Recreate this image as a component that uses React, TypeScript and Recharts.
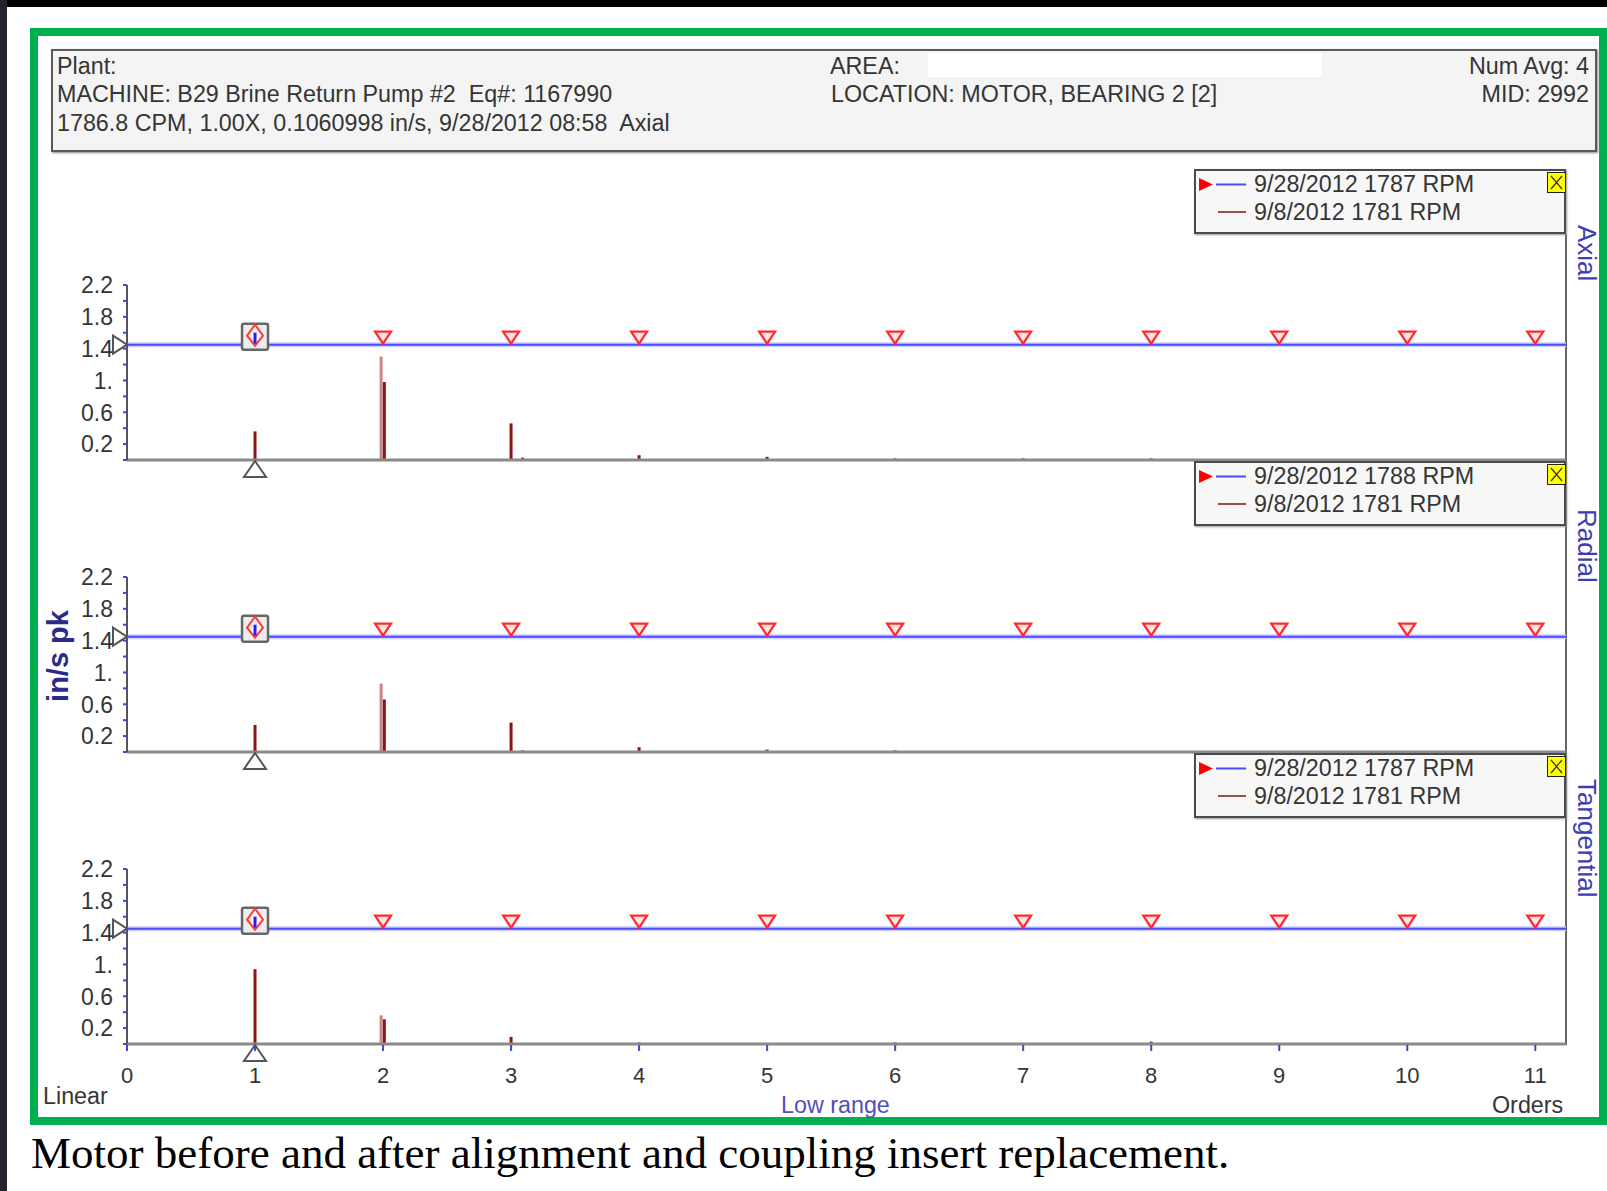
import React from 'react';
import { ComposedChart, Bar, Cell, Scatter, XAxis, YAxis, ReferenceLine, Legend } from 'recharts';

// axis ticks
const ORDER_TICKS = [0, 1, 2, 3, 4, 5, 6, 7, 8, 9, 10, 11];
const Y_TICKS = [0, 0.2, 0.4, 0.6, 0.8, 1, 1.2, 1.4, 1.6, 1.8, 2, 2.2];
const Y_LABEL_VALUES = [0.2, 0.6, 1, 1.4, 1.8, 2.2];
const Y_LABELS = ['0.2', '0.6', '1.', '1.4', '1.8', '2.2'];

// markers
const ALARM_LEVEL = 1.45;
const RUN_SPEED_ORDER = 1;
const HARMONIC_ORDERS = [2, 3, 4, 5, 6, 7, 8, 9, 10, 11];

// 9/8/2012 spectrum (before alignment)
const OLD_ORDERS = [1, 1.985, 2.01, 3, 3.09, 4, 5, 6, 7, 8];
const OLD_SHADE = ['dark', 'light', 'dark', 'dark', 'dark', 'dark', 'dark', 'dark', 'dark', 'dark'];
const AXIAL_OLD = [0.36, 1.3, 0.98, 0.46, 0.03, 0.06, 0.04, 0.02, 0.02, 0.02];
const RADIAL_OLD = [0.34, 0.86, 0.66, 0.37, 0.02, 0.06, 0.03, 0.02, 0.01, 0.01];
const TANGENTIAL_OLD = [0.94, 0.36, 0.31, 0.09, 0.01, 0.02, 0.01, 0.02, 0.01, 0.03];

// 9/28/2012 spectrum (after) - practically flat
const NEW_ORDERS = [1, 2, 3, 4];
const AXIAL_NEW = [0.02, 0.01, 0.02, 0.01];
const RADIAL_NEW = [0.02, 0.01, 0.01, 0.01];
const TANGENTIAL_NEW = [0.02, 0.01, 0.01, 0.01];

const DIRECTIONS = ['Axial', 'Radial', 'Tangential'];
const NEW_RUNS = ['9/28/2012 1787 RPM', '9/28/2012 1788 RPM', '9/28/2012 1787 RPM'];
const OLD_RUNS = ['9/8/2012 1781 RPM', '9/8/2012 1781 RPM', '9/8/2012 1781 RPM'];

const SANS = '"Liberation Sans", Arial, sans-serif';
const TEXT = '#353535';

const AmpTick = (props: any) => {
  const { x, y, payload } = props;
  const idx = Y_LABEL_VALUES.indexOf(payload.value);
  return (
    <g>
      <line x1={x - 4} x2={x} y1={y} y2={y} stroke="#4646c8" strokeWidth={2} />
      {idx >= 0 && (
        <text x={x - 14} y={y} dy="0.36em" textAnchor="end" fontSize={23} fontFamily={SANS} fill={TEXT}>
          {Y_LABELS[idx]}
        </text>
      )}
    </g>
  );
};

const OrderTick = (props: any) => {
  const { x, y, payload } = props;
  return (
    <g>
      <line x1={x} x2={x} y1={y + 1} y2={y + 7} stroke="#4646c8" strokeWidth={2} />
      <text x={x} y={y + 31} dy="0.36em" textAnchor="middle" fontSize={22} fontFamily={SANS} fill={TEXT}>
        {payload.value}
      </text>
    </g>
  );
};

// 3px spectral line, centred on the bar slot
const Stem = (props: any) => {
  const { x, y, width, height, fill } = props;
  if (!height || height <= 0) return null;
  return <rect x={x + width / 2 - 1.5} y={y} width={3} height={height} fill={fill} />;
};

const HarmonicMarker = (props: any) => {
  const { cx, cy } = props;
  return <path d={`M${cx - 8},${cy - 13} L${cx + 8},${cy - 13} L${cx},${cy - 1} Z`} fill="#ffe4e4" stroke="#ff2b2b" strokeWidth={2.2} />;
};

const RunMarker = (props: any) => {
  const { cx, cy } = props;
  return (
    <g>
      <rect x={cx - 13} y={cy - 21} width={26} height={26} rx={2} fill="#ededed" stroke="#666" strokeWidth={2.5} />
      <path d={`M${cx},${cy - 20} L${cx + 8},${cy - 9} L${cx},${cy + 1} L${cx - 8},${cy - 9} Z`} fill="#fff0f0" stroke="#ff3b3b" strokeWidth={2} />
      <line x1={cx} x2={cx} y1={cy - 12} y2={cy - 1} stroke="#2222ee" strokeWidth={3} />
    </g>
  );
};

const AxisPointer = (props: any) => {
  const { cx, cy } = props;
  return <path d={`M${cx - 14},${cy - 9} L${cx},${cy} L${cx - 14},${cy + 9} Z`} fill="#fff" stroke="#555" strokeWidth={2} />;
};

const RunFoot = (props: any) => {
  const { cx, cy } = props;
  return <path d={`M${cx},${cy + 1} L${cx + 11},${cy + 17} L${cx - 11},${cy + 17} Z`} fill="#fff" stroke="#555" strokeWidth={2} />;
};

function RunLegend({ newRun, oldRun }: { newRun: string; oldRun: string }) {
  return (
    <div style={{ position: 'relative', width: 372, height: 65, boxSizing: 'border-box', background: '#f7f7f7', border: '2px solid #4a4a4a', boxShadow: '1px 1px 2px #999', fontFamily: SANS, fontSize: 23.3, color: TEXT }}>
      <svg width={56} height={60} style={{ position: 'absolute', left: 0, top: 0 }}>
        <path d="M3,7 L17,13.5 L3,20 Z" fill="#ff0000" />
        <line x1={20} x2={50} y1={13.5} y2={13.5} stroke="#4a4aff" strokeWidth={2} />
        <line x1={22} x2={50} y1={41} y2={41} stroke="#a34a4a" strokeWidth={2} />
      </svg>
      <div style={{ position: 'absolute', left: 58, top: 0, lineHeight: '26px', whiteSpace: 'nowrap' }}>{newRun}</div>
      <div style={{ position: 'absolute', left: 58, top: 28, lineHeight: '26px', whiteSpace: 'nowrap' }}>{oldRun}</div>
      <svg width={19} height={21} style={{ position: 'absolute', right: -2, top: 1 }}>
        <rect x={0.5} y={0.5} width={18} height={20} fill="#ffff00" stroke="#222" />
        <path d="M4,4 L15,17 M15,4 L4,17" stroke="#333" strokeWidth={1.2} />
      </svg>
    </div>
  );
}

function SpectrumPanel({ index, before, after, last }: { index: number; before: number[]; after: number[]; last: boolean }) {
  const rows: any[] = [
    ...OLD_ORDERS.map((order, i) => ({ order, before: before[i], shade: OLD_SHADE[i] })),
    ...NEW_ORDERS.map((order, i) => ({ order, after: after[i] })),
  ];
  const harmonics = HARMONIC_ORDERS.map((order) => ({ order, level: ALARM_LEVEL }));
  const runPoint = [{ order: RUN_SPEED_ORDER, level: ALARM_LEVEL }];
  const pointer = [{ order: 0, level: ALARM_LEVEL }];
  const foot = [{ order: RUN_SPEED_ORDER, level: 0 }];

  return (
    <div style={{ position: 'absolute', left: 0, top: 160 + 292 * index }}>
      <ComposedChart width={1607} height={last ? 370 : 320} data={rows} margin={{ top: 125, right: 41, bottom: 0, left: 67 }}>
        <XAxis
          xAxisId="spec"
          type="number"
          dataKey="order"
          domain={[0, 11.24]}
          ticks={ORDER_TICKS}
          interval={0}
          height={last ? 70 : 20}
          axisLine={{ stroke: '#8a8a8a', strokeWidth: 3 }}
          tickLine={false}
          tickSize={0}
          tickMargin={0}
          tick={last ? <OrderTick /> : false}
        />
        <XAxis xAxisId="after" orientation="top" type="number" dataKey="order" domain={[0, 11.24]} height={0} hide />
        <YAxis
          type="number"
          domain={[0, 2.2]}
          ticks={Y_TICKS}
          interval={0}
          width={60}
          axisLine={{ stroke: '#555', strokeWidth: 2 }}
          tickLine={false}
          tickSize={0}
          tickMargin={0}
          tick={<AmpTick />}
        />
        <ReferenceLine xAxisId="spec" y={ALARM_LEVEL} stroke="#cdcdff" strokeWidth={5} />
        <ReferenceLine xAxisId="spec" y={ALARM_LEVEL} stroke="#4d4df2" strokeWidth={2} />
        <Bar xAxisId="after" dataKey="after" fill="#3535ff" shape={Stem} isAnimationActive={false} />
        <Bar xAxisId="spec" dataKey="before" shape={Stem} isAnimationActive={false}>
          {rows.map((r, i) => (
            <Cell key={i} fill={r.shade === 'light' ? '#cc8585' : '#8e1414'} />
          ))}
        </Bar>
        <Scatter xAxisId="spec" data={harmonics} dataKey="level" shape={HarmonicMarker} isAnimationActive={false} />
        <Scatter xAxisId="spec" data={runPoint} dataKey="level" shape={RunMarker} isAnimationActive={false} />
        <Scatter xAxisId="spec" data={pointer} dataKey="level" shape={AxisPointer} isAnimationActive={false} />
        <Scatter xAxisId="spec" data={foot} dataKey="level" shape={RunFoot} isAnimationActive={false} />
        <Legend
          layout="vertical"
          align="center"
          verticalAlign="middle"
          wrapperStyle={{ left: 1194, top: 9, width: 372, height: 65 }}
          content={() => <RunLegend newRun={NEW_RUNS[index]} oldRun={OLD_RUNS[index]} />}
        />
      </ComposedChart>
    </div>
  );
}

export default function App() {
  const line = (top: number, left: number, text: string, extra: any = {}) => (
    <div style={{ position: 'absolute', top: top - 14, left, lineHeight: '28px', fontSize: 23.3, whiteSpace: 'pre', ...extra }}>{text}</div>
  );
  return (
    <div style={{ position: 'absolute', left: 0, top: 0, width: 1607, height: 1191, background: '#fff', overflow: 'hidden', fontFamily: SANS, color: TEXT }}>
      <div style={{ position: 'absolute', left: 0, top: 0, width: 1607, height: 7, background: '#000' }} />
      <div style={{ position: 'absolute', left: 0, top: 0, width: 7, height: 1191, background: '#23232f' }} />
      <div style={{ position: 'absolute', left: 30, top: 28, width: 1577, height: 1097, boxSizing: 'border-box', border: '8px solid #00b04f' }} />

      {/* header */}
      <div style={{ position: 'absolute', left: 51, top: 49, width: 1546, height: 103, boxSizing: 'border-box', background: '#f4f4f4', border: '2px solid #5a5a5a', boxShadow: '1px 1px 2px #888' }} />
      <div style={{ position: 'absolute', left: 928, top: 53, width: 394, height: 24, background: '#fff' }} />
      {line(66, 57, 'Plant:')}
      {line(94, 57, 'MACHINE: B29 Brine Return Pump #2  Eq#: 1167990')}
      {line(123, 57, '1786.8 CPM, 1.00X, 0.1060998 in/s, 9/28/2012 08:58  Axial')}
      {line(66, 830, 'AREA:')}
      {line(94, 831, 'LOCATION: MOTOR, BEARING 2 [2]')}
      {line(66, 1300, 'Num Avg: 4', { width: 289, textAlign: 'right' })}
      {line(94, 1300, 'MID: 2992', { width: 289, textAlign: 'right' })}

      {/* right frame line */}
      <div style={{ position: 'absolute', left: 1565, top: 234, width: 2, height: 811, background: '#666' }} />

      <SpectrumPanel index={0} before={AXIAL_OLD} after={AXIAL_NEW} last={false} />
      <SpectrumPanel index={1} before={RADIAL_OLD} after={RADIAL_NEW} last={false} />
      <SpectrumPanel index={2} before={TANGENTIAL_OLD} after={TANGENTIAL_NEW} last={true} />

      {DIRECTIONS.map((d, i) => (
        <div key={d} style={{ position: 'absolute', left: 1573, top: [225, 509, 779][i], width: 28, lineHeight: '28px', fontSize: 26, color: '#3c3cb4', writingMode: 'vertical-rl', whiteSpace: 'nowrap' }}>
          {d}
        </div>
      ))}

      <div style={{ position: 'absolute', left: 58, top: 656, transform: 'translate(-50%, -50%) rotate(-90deg)', fontSize: 29, fontWeight: 'bold', color: '#2b2b8f', whiteSpace: 'nowrap' }}>in/s pk</div>

      {line(1096, 43, 'Linear')}
      {line(1105, 781, 'Low range', { color: '#5050b8' })}
      {line(1105, 1492, 'Orders')}

      <div style={{ position: 'absolute', left: 31, top: 1127, fontFamily: '"Liberation Serif", "Times New Roman", serif', fontSize: 45, lineHeight: '52px', color: '#000', whiteSpace: 'nowrap' }}>
        Motor before and after alignment and coupling insert replacement.
      </div>
    </div>
  );
}
